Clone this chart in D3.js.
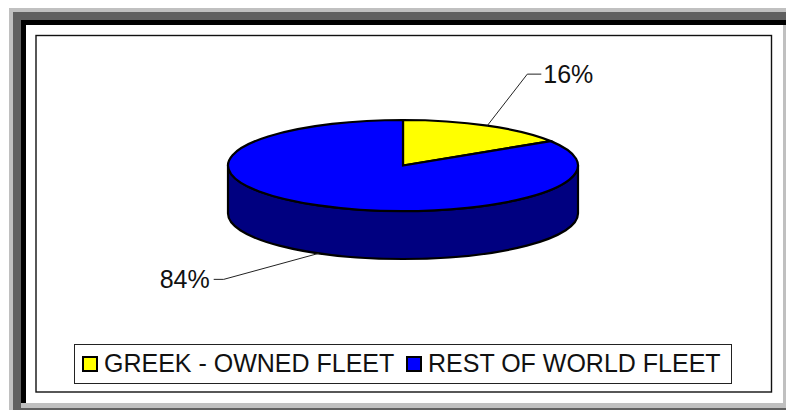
<!DOCTYPE html>
<html>
<head>
<meta charset="utf-8">
<script src="https://cdn.jsdelivr.net/npm/d3@7"></script>
<style>
  html, body { margin: 0; padding: 0; background: #fff; }
  svg { display: block; }
  text { font-family: "Liberation Sans", Arial, sans-serif; fill: #111; }
</style>
</head>
<body>
<div id="chart"></div>
<script>
const categories = ["GREEK - OWNED FLEET", "REST OF WORLD FLEET"];
const shares = [16, 84];
const shareLabels = ["16%", "84%"];
const sliceColors = ["#ffff00", "#0000ff"];
const sideColor = "#000080";

const width = 786;
const height = 410;

const svg = d3.select("#chart")
    .append("svg")
    .attr("width", width)
    .attr("height", height);

// picture frame, drawn from the outside in
const frame = [
    {x: 9, y: 8, w: 777, h: 402, fill: "#c0c0c0"},
    {x: 13, y: 12, w: 773, h: 398, fill: "#606060"},
    {x: 21, y: 20, w: 765, h: 383, fill: "#000000"},
    {x: 21, y: 403, w: 765, h: 5, fill: "#c0c0c0"},
    {x: 26, y: 25, w: 760, h: 378, fill: "#c0c0c0"},
    {x: 26, y: 25, w: 757, h: 378, fill: "#ffffff"}
];

svg.selectAll("rect.frame")
    .data(frame)
    .join("rect")
    .attr("class", "frame")
    .attr("x", d => d.x)
    .attr("y", d => d.y)
    .attr("width", d => d.w)
    .attr("height", d => d.h)
    .attr("fill", d => d.fill);

// plot area border
svg.append("rect")
    .attr("x", 36)
    .attr("y", 35.5)
    .attr("width", 735.5)
    .attr("height", 356.5)
    .attr("fill", "#fff")
    .attr("stroke", "#111")
    .attr("stroke-width", 1.4);

// pie geometry
const cx = 403;
const cy = 165.5;
const rx = 175;
const ry = 45.5;
const depth = 48;

const pie = d3.pie().sort(null);
const slices = pie(shares);

const arc = d3.arc().innerRadius(0).outerRadius(rx);

// side wall of the disc, only the front half shows
svg.append("path")
    .attr("d", `M${cx - rx},${cy} L${cx - rx},${cy + depth} A${rx},${ry} 0 0 0 ${cx + rx},${cy + depth} L${cx + rx},${cy} A${rx},${ry} 0 0 1 ${cx - rx},${cy} Z`)
    .attr("fill", sideColor)
    .attr("stroke", "#000")
    .attr("stroke-width", 2.2);

// top face is a normal arc squashed to an ellipse
svg.append("g")
    .attr("transform", `translate(${cx},${cy}) scale(1,${ry / rx})`)
    .selectAll("path")
    .data(slices)
    .join("path")
    .attr("d", arc)
    .attr("fill", (d, i) => sliceColors[i])
    .attr("stroke", "#000")
    .attr("stroke-width", 2.2)
    .attr("stroke-linejoin", "miter")
    .attr("vector-effect", "non-scaling-stroke");

// leader lines start from the middle of each slice edge
const midPoint = d => {
    const a = (d.startAngle + d.endAngle) / 2;
    const front = Math.cos(a) < 0;
    return [cx + rx * Math.sin(a), cy - ry * Math.cos(a) + (front ? depth : 0)];
};

const leaderOffsets = [[[40, -51.5], [54, -51.5]], [[-95, 26], [-105, 26]]];
const labelAnchor = ["start", "end"];
const labelGap = [2, -4];
const labelDrop = [9, 8.5];

const line = d3.line();

slices.forEach((d, i) => {
    const p = midPoint(d);
    const pts = [p].concat(leaderOffsets[i].map(o => [p[0] + o[0], p[1] + o[1]]));
    svg.append("path")
        .attr("d", line(pts))
        .attr("fill", "none")
        .attr("stroke", "#222")
        .attr("stroke-width", 1);
    svg.append("text")
        .attr("x", pts[2][0] + labelGap[i])
        .attr("y", pts[2][1] + labelDrop[i])
        .attr("text-anchor", labelAnchor[i])
        .attr("font-size", 25)
        .text(shareLabels[i]);
});

// legend
const legendX = d3.scalePoint()
    .domain(categories)
    .range([83, 407]);

svg.append("rect")
    .attr("x", 74.5)
    .attr("y", 344.5)
    .attr("width", 657)
    .attr("height", 39)
    .attr("fill", "#fff")
    .attr("stroke", "#222")
    .attr("stroke-width", 1);

const legendItems = svg.selectAll("g.legend-item")
    .data(categories)
    .join("g")
    .attr("class", "legend-item")
    .attr("transform", d => `translate(${legendX(d)},357)`);

legendItems.append("rect")
    .attr("x", 0)
    .attr("y", 0)
    .attr("width", 14)
    .attr("height", 14)
    .attr("fill", (d, i) => sliceColors[i])
    .attr("stroke", "#000")
    .attr("stroke-width", 2);

legendItems.append("text")
    .attr("x", 21)
    .attr("y", 15)
    .attr("font-size", 25)
    .text(d => d);
</script>
</body>
</html>
